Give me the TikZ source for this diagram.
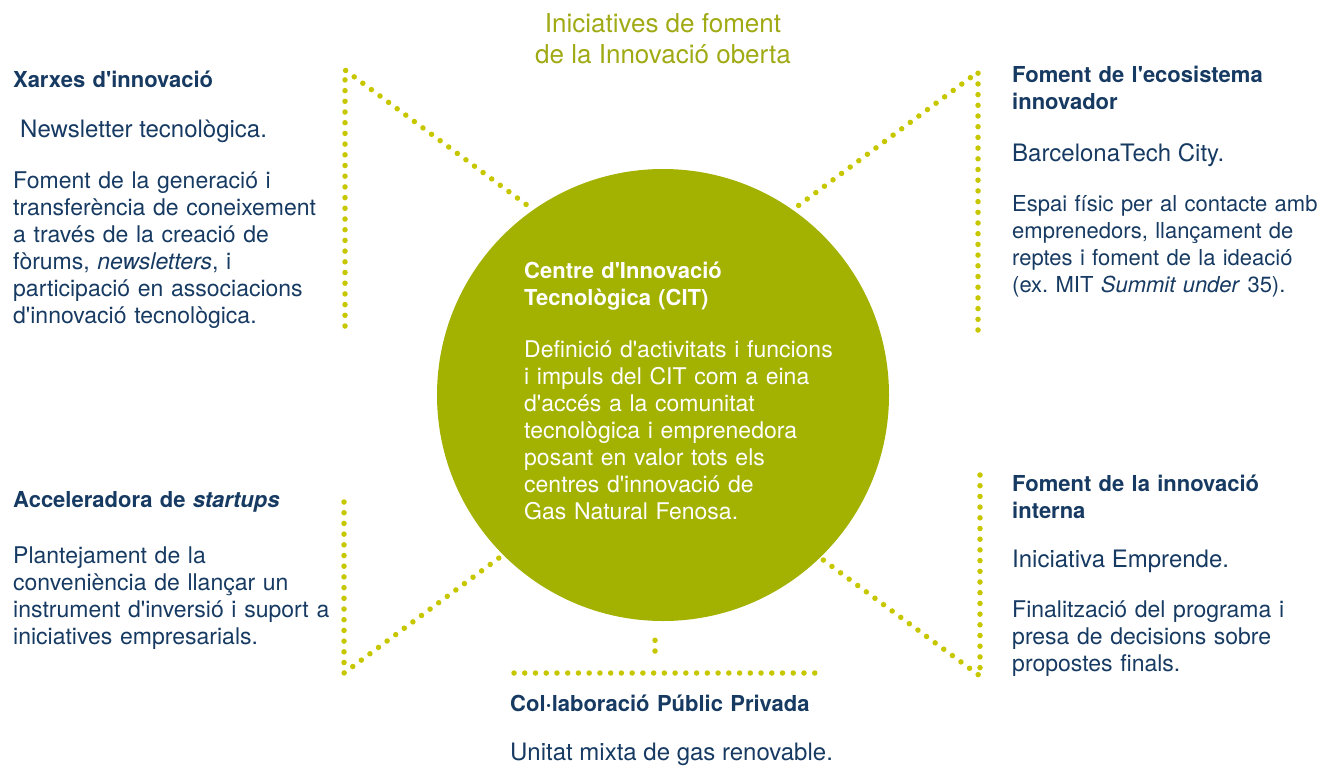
\documentclass[tikz,border=0pt]{standalone}
\usepackage{fontspec}
\setmainfont{TeX Gyre Heros}[Ligatures=TeXOff]
\definecolor{navy}{RGB}{22,58,98}
\definecolor{cgreen}{RGB}{163,177,0}
\definecolor{dotc}{RGB}{199,199,0}
\definecolor{titlec}{RGB}{160,170,20}
\tikzset{
  dotline/.style={draw=dotc,line width=5.5pt,line cap=round,dash pattern=on 0pt off 10.7pt},
  head/.style={anchor=base west,inner sep=0,text width=400pt,align=left,text=navy,font=\bfseries\fontsize{22}{27}\selectfont},
  sub/.style={anchor=base west,inner sep=0,text=navy,font=\fontsize{24}{27}\selectfont},
  body/.style={anchor=base west,inner sep=0,text width=400pt,align=left,text=navy,font=\fontsize{23}{27}\selectfont},
}
\begin{document}
\frenchspacing
\begin{tikzpicture}[x=1pt,y=-1pt]
    \useasboundingbox (0,0) rectangle (1322,766);
    \node[circle,fill=cgreen,minimum size=452pt,inner sep=0,outer sep=0] (cit) at (663,395) {};
    \coordinate (lt1) at (345,326);
    \coordinate (lt2) at (345,70);
    \coordinate (rt1) at (978,330);
    \coordinate (rt2) at (978,72);
    \coordinate (rb1) at (980,475);
    \coordinate (rb2) at (980,676);
    \coordinate (lb1) at (344,502);
    \coordinate (lb2) at (344,673);
    \coordinate (stub) at (655,651);
    \coordinate (bar1) at (514,673);
    \coordinate (bar2) at (815.5,673);
    \draw[dotline,shorten >=3pt] (lt1) -- (lt2) -- (cit.125);
    \draw[dotline,shorten >=3pt] (rt1) -- (rt2) -- (cit.55);
    \draw[dotline,shorten >=3pt] (rb1) -- (rb2) -- (cit.-46);
    \draw[dotline,shorten >=3pt] (lb1) -- (lb2) -- (cit.225);
    \draw[dotline,shorten >=9pt] (stub) -- (cit.268);
    \draw[dotline,dash pattern=on 0pt off 10.74pt] (bar1) -- (bar2);

    \node[anchor=base,inner sep=0,align=center,text=titlec,font=\fontsize{26}{31}\selectfont] (title) at (663,63)
        {Iniciatives de foment\\de la Innovació oberta};

    \node[head,text=white] (citHead) at (524,278) {Centre d'Innovació\\Tecnològica (CIT)};
    \node[body,text=white] (citTxt) at (524,357) {Definició d'activitats i funcions\\i impuls del CIT com a eina\\d'accés a la comunitat\\tecnològica i emprenedora\\posant en valor tots els\\centres d'innovació de\\Gas Natural Fenosa.};

    \node[head] (xarxes) at (13,87) {Xarxes d'innovació};
    \node[sub] (xarxesSub) at (20,137) {Newsletter tecnològica.};
    \node[body] (xarxesTxt) at (13,188) {Foment de la generació i\\transferència de coneixement\\a través de la creació de\\fòrums, \textit{newsletters}, i\\participació en associacions\\d'innovació tecnològica.};

    \node[head] (eco) at (1012,82) {Foment de l'ecosistema\\innovador};
    \node[sub] (ecoSub) at (1012,161) {BarcelonaTech City.};
    \node[body,font=\fontsize{22}{27}\selectfont] (ecoTxt) at (1012,211) {Espai físic per al contacte amb\\emprenedors, llançament de\\reptes i foment de la ideació\\(ex. MIT \textit{Summit under} 35).};

    \node[head] (accel) at (13,507) {Acceleradora de \textit{startups}};
    \node[body] (accelTxt) at (13,563) {Plantejament de la\\conveniència de llançar un\\instrument d'inversió i suport a\\iniciatives empresarials.};

    \node[head] (interna) at (1012,491) {Foment de la innovació\\interna};
    \node[sub] (internaSub) at (1012,567) {Iniciativa Emprende.};
    \node[body] (internaTxt) at (1012,617) {Finalització del programa i\\presa de decisions sobre\\propostes finals.};

    \node[head] (collab) at (510,711) {Col·laboració Públic Privada};
    \node[sub] (collabSub) at (510,760) {Unitat mixta de gas renovable.};
\end{tikzpicture}
\end{document}
